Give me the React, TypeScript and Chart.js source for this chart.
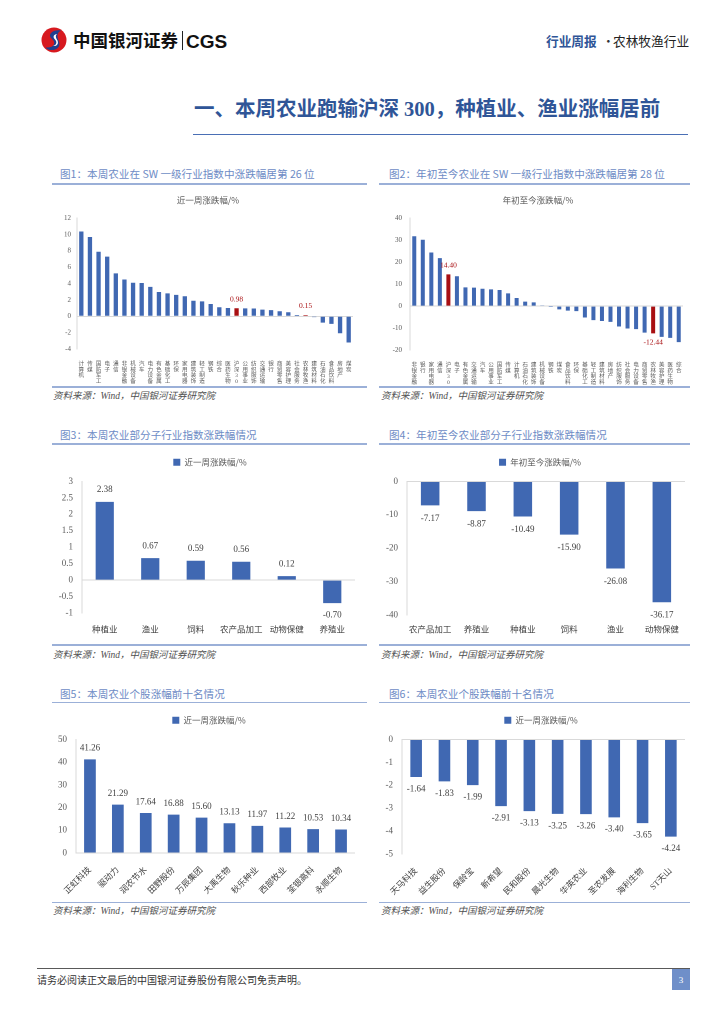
import React, { useEffect, useRef } from "react";
import { Chart, registerables } from "chart.js";

Chart.register(...registerables);

const FONT = '"Liberation Serif", "Noto Sans CJK SC", serif';
const SANS = '"Noto Sans CJK SC", "Liberation Sans", sans-serif';
const BLUE = "#4068B2";
const RED = "#A80F12";
const TICK = "#595959";

// ---- 图1 本周申万一级行业涨跌幅
const weekSectors = ["计算机", "传媒", "国防军工", "电子", "通信", "非银金融", "机械设备", "汽车", "电力设备", "有色金属", "基础化工", "环保", "家用电器", "建筑装饰", "轻工制造", "钢铁", "综合", "医药生物", "沪深300", "公用事业", "纺织服饰", "交通运输", "银行", "商贸零售", "美容护理", "社会服务", "农林牧渔", "建筑材料", "石油石化", "食品饮料", "房地产", "煤炭"];
const weekChange = [10.37, 9.7, 7.9, 7.3, 5.25, 4.5, 4.1, 4.08, 3.6, 2.97, 2.8, 2.62, 2.45, 1.9, 1.83, 1.5, 1.1, 1.02, 0.98, 0.97, 0.95, 0.82, 0.75, 0.62, 0.5, 0.16, 0.15, -0.1, -0.77, -0.93, -2.07, -3.2];
const weekHighlight = ["沪深300", "农林牧渔"];
const weekAxis = [-4, 12, 2];

// ---- 图2 年初至今申万一级行业涨跌幅
const ytdSectors = ["非银金融", "银行", "家用电器", "通信", "沪深300", "电子", "有色金属", "交通运输", "汽车", "公用事业", "国防军工", "传媒", "计算机", "石油石化", "建筑装饰", "机械设备", "钢铁", "煤炭", "食品饮料", "环保", "基础化工", "轻工制造", "建筑材料", "房地产", "纺织服饰", "社会服务", "电力设备", "商贸零售", "农林牧渔", "美容护理", "医药生物", "综合"];
const ytdChange = [31.8, 30.2, 24.4, 21.8, 14.4, 13.6, 8.5, 8.4, 7.9, 7.6, 7.3, 5.8, 3.7, 2.0, 1.7, 0.1, -0.05, -1.5, -2.1, -2.3, -5.2, -6.4, -6.8, -7.2, -9.3, -10.2, -10.5, -12.1, -12.44, -14.0, -14.5, -16.4];
const ytdHighlight = ["沪深300", "农林牧渔"];
const ytdAxis = [-20, 40, 10];

// ---- 图3 本周农业子行业
const subWeekNames = ["种植业", "渔业", "饲料", "农产品加工", "动物保健", "养殖业"];
const subWeekChange = [2.38, 0.67, 0.59, 0.56, 0.12, -0.7];
const subWeekAxis = [-1, 3, 0.5];

// ---- 图4 年初至今农业子行业
const subYtdNames = ["农产品加工", "养殖业", "种植业", "饲料", "渔业", "动物保健"];
const subYtdChange = [-7.17, -8.87, -10.49, -15.9, -26.08, -36.17];
const subYtdAxis = [-40, 0, 10];

// ---- 图5 本周涨幅前十
const topGainNames = ["正虹科技", "驱动力", "润农节水", "田野股份", "万辰集团", "大禹生物", "秋乐种业", "西部牧业", "荃银高科", "永顺生物"];
const topGainChange = [41.26, 21.29, 17.64, 16.88, 15.6, 13.13, 11.97, 11.22, 10.53, 10.34];
const topGainAxis = [0, 50, 10];

// ---- 图6 本周跌幅前十
const topLossNames = ["天马科技", "益生股份", "保龄宝", "新希望", "民和股份", "晨光生物", "华英农业", "圣农发展", "海利生物", "ST天山"];
const topLossChange = [-1.64, -1.83, -1.99, -2.91, -3.13, -3.25, -3.26, -3.4, -3.65, -4.24];
const topLossAxis = [-5, 0, 1];

type PanelCfg = {
  box: [number, number, number, number];
  labels: (string | string[])[];
  data: number[];
  colors: string | string[];
  axis: number[];
  yWidth: number;
  xHeight: number;
  padRight: number;
  yFont: number;
  yPad: number;
  xFont: number;
  xLineHeight: number;
  xPad: number;
  xColor: string;
  rotation: number;
  barPct: number;
  series: string;
  title?: string;
  titlePad?: { top: number; bottom: number };
  legend?: boolean;
  legendPad?: number;
  legendGap?: number;
  headShift: number;
  valueIdx: number[];
  valueColor: string;
  valueFont: number;
  valueOffset: number;
};

function makeValuePlugin(cfg: PanelCfg) {
  return {
    id: "valueLabels",
    afterDatasetsDraw(chart: any) {
      const ctx = chart.ctx;
      const meta = chart.getDatasetMeta(0);
      const values = chart.data.datasets[0].data as number[];
      ctx.save();
      ctx.font = `${cfg.valueFont}px ${FONT}`;
      ctx.textAlign = "center";
      ctx.textBaseline = "middle";
      ctx.fillStyle = cfg.valueColor;
      cfg.valueIdx.forEach((i) => {
        const bar = meta.data[i];
        if (!bar) return;
        const v = values[i];
        const y = v >= 0 ? bar.y - cfg.valueOffset : bar.y + cfg.valueOffset;
        ctx.fillText(v.toFixed(2), bar.x, y);
      });
      ctx.restore();
    },
  };
}

function makeHeadPlugin(extra: number, shift: number) {
  return {
    id: "headAdjust",
    beforeInit(chart: any) {
      if (!chart.legend) return;
      const orig = chart.legend.fit;
      chart.legend.fit = function () {
        orig.call(this);
        this.height += extra;
      };
    },
    afterLayout(chart: any) {
      [chart.titleBlock, chart.legend].forEach((b: any) => {
        if (!b) return;
        b.left += shift;
        b.right += shift;
      });
    },
  };
}

function buildConfig(cfg: PanelCfg): any {
  const [min, max, step] = cfg.axis;
  return {
    type: "bar",
    data: {
      labels: cfg.labels,
      datasets: [
        {
          label: cfg.series,
          data: cfg.data,
          backgroundColor: cfg.colors,
          borderWidth: 0,
          barPercentage: cfg.barPct,
          categoryPercentage: 1,
        },
      ],
    },
    options: {
      animation: false,
      responsive: true,
      maintainAspectRatio: false,
      devicePixelRatio: 2,
      layout: { padding: { top: 0, right: cfg.padRight, bottom: 0, left: 0 } },
      plugins: {
        tooltip: { enabled: false },
        title: {
          display: !!cfg.title,
          text: cfg.title || "",
          color: TICK,
          font: { family: SANS, size: 8.5, weight: "normal", lineHeight: 1.2 },
          padding: cfg.titlePad || { top: 0, bottom: 0 },
        },
        legend: {
          display: !!cfg.legend,
          position: "top",
          labels: {
            boxWidth: 7,
            boxHeight: 7,
            color: TICK,
            padding: cfg.legendPad ?? 10,
            font: { family: SANS, size: 8.5 },
          },
        },
      },
      scales: {
        x: {
          grid: { display: false },
          border: { display: false },
          afterFit: (s: any) => {
            s.height = cfg.xHeight;
          },
          ticks: {
            autoSkip: false,
            maxRotation: cfg.rotation,
            minRotation: cfg.rotation,
            padding: cfg.xPad,
            color: cfg.xColor,
            font: { family: FONT, size: cfg.xFont, lineHeight: cfg.xLineHeight },
          },
        },
        y: {
          min,
          max,
          afterFit: (s: any) => {
            s.width = cfg.yWidth;
          },
          border: { display: true, color: "#D9D9D9", width: 1 },
          grid: {
            drawTicks: false,
            color: (c: any) => (c.tick && Math.abs(c.tick.value) < 1e-9 ? "#D9D9D9" : "rgba(0,0,0,0)"),
            lineWidth: 1,
          },
          ticks: {
            stepSize: step,
            padding: cfg.yPad,
            color: TICK,
            font: { family: FONT, size: cfg.yFont },
            callback: (v: any) => `${Math.round(Number(v) * 100) / 100}`,
          },
        },
      },
    },
    plugins: [makeValuePlugin(cfg), makeHeadPlugin(cfg.legendGap ?? 0, cfg.headShift)],
  };
}

function BarPanel({ cfg }: { cfg: PanelCfg }) {
  const ref = useRef<HTMLCanvasElement>(null);
  useEffect(() => {
    if (!ref.current) return;
    const chart = new Chart(ref.current, buildConfig(cfg));
    return () => chart.destroy();
  }, [cfg]);
  const [left, top, width, height] = cfg.box;
  return (
    <div style={{ position: "absolute", left, top, width, height }}>
      <canvas ref={ref} />
    </div>
  );
}

const stack = (s: string) => Array.from(s);
const idxOf = (names: string[], pick: string[]) => names.map((n, i) => (pick.includes(n) ? i : -1)).filter((i) => i >= 0);
const allIdx = (arr: number[]) => arr.map((_, i) => i);

const chart1: PanelCfg = {
  box: [52, 188, 312, 197],
  labels: weekSectors.map(stack),
  data: weekChange,
  colors: weekSectors.map((n) => (weekHighlight.includes(n) ? RED : BLUE)),
  axis: weekAxis,
  yWidth: 25,
  xHeight: 36,
  padRight: 11,
  yFont: 7,
  yPad: 6,
  xFont: 5.6,
  xLineHeight: 1.05,
  xPad: 4,
  xColor: TICK,
  rotation: 0,
  barPct: 0.5,
  series: "近一周涨跌幅/%",
  title: "近一周涨跌幅/%",
  titlePad: { top: 7, bottom: 13 },
  headShift: 5.5,
  valueIdx: idxOf(weekSectors, weekHighlight),
  valueColor: RED,
  valueFont: 7.5,
  valueOffset: 9,
};

const chart2: PanelCfg = {
  box: [379, 188, 312, 197],
  labels: ytdSectors.map(stack),
  data: ytdChange,
  colors: ytdSectors.map((n) => (ytdHighlight.includes(n) ? RED : BLUE)),
  axis: ytdAxis,
  yWidth: 31,
  xHeight: 35,
  padRight: 8,
  yFont: 7,
  yPad: 8,
  xFont: 5.6,
  xLineHeight: 1.05,
  xPad: 4,
  xColor: TICK,
  rotation: 0,
  barPct: 0.47,
  series: "年初至今涨跌幅/%",
  title: "年初至今涨跌幅/%",
  titlePad: { top: 7, bottom: 13 },
  headShift: 7,
  valueIdx: idxOf(ytdSectors, ytdHighlight),
  valueColor: RED,
  valueFont: 7.5,
  valueOffset: 9,
};

const chart3: PanelCfg = {
  box: [52, 448, 312, 194],
  labels: subWeekNames,
  data: subWeekChange,
  colors: BLUE,
  axis: subWeekAxis,
  yWidth: 30,
  xHeight: 29,
  padRight: 9,
  yFont: 9,
  yPad: 9,
  xFont: 8.5,
  xLineHeight: 1.2,
  xPad: 4,
  xColor: "#404040",
  rotation: 0,
  barPct: 0.4,
  series: "近一周涨跌幅/%",
  legend: true,
  legendPad: 10,
  legendGap: 5,
  headShift: 6.5,
  valueIdx: allIdx(subWeekChange),
  valueColor: "#404040",
  valueFont: 9,
  valueOffset: 12,
};

const chart4: PanelCfg = {
  box: [379, 448, 312, 194],
  labels: subYtdNames,
  data: subYtdChange,
  colors: BLUE,
  axis: subYtdAxis,
  yWidth: 28,
  xHeight: 27,
  padRight: 6,
  yFont: 9,
  yPad: 9,
  xFont: 8.5,
  xLineHeight: 1.2,
  xPad: 2,
  xColor: "#404040",
  rotation: 0,
  barPct: 0.4,
  series: "年初至今涨跌幅/%",
  legend: true,
  legendPad: 10,
  legendGap: 5,
  headShift: 8,
  valueIdx: allIdx(subYtdChange),
  valueColor: "#404040",
  valueFont: 9,
  valueOffset: 13,
};

const chart5: PanelCfg = {
  box: [52, 706, 312, 196],
  labels: topGainNames,
  data: topGainChange,
  colors: BLUE,
  axis: topGainAxis,
  yWidth: 24,
  xHeight: 49,
  padRight: 9,
  yFont: 9,
  yPad: 9,
  xFont: 8.5,
  xLineHeight: 1.2,
  xPad: 4,
  xColor: "#404040",
  rotation: 45,
  barPct: 0.42,
  series: "近一周涨跌幅/%",
  legend: true,
  legendPad: 10,
  legendGap: 5,
  headShift: 5.5,
  valueIdx: allIdx(topGainChange),
  valueColor: "#404040",
  valueFont: 9,
  valueOffset: 11,
};

const chart6: PanelCfg = {
  box: [379, 706, 312, 196],
  labels: topLossNames,
  data: topLossChange,
  colors: BLUE,
  axis: topLossAxis,
  yWidth: 23,
  xHeight: 48,
  padRight: 6,
  yFont: 9,
  yPad: 9,
  xFont: 8.5,
  xLineHeight: 1.2,
  xPad: 4,
  xColor: "#404040",
  rotation: 45,
  barPct: 0.41,
  series: "近一周涨跌幅/%",
  legend: true,
  legendPad: 10,
  legendGap: 5,
  headShift: 9,
  valueIdx: allIdx(topLossChange),
  valueColor: "#404040",
  valueFont: 9,
  valueOffset: 12,
};

const panelTitles = [
  { x: 60, y: 174, text: "图1：本周农业在 SW 一级行业指数中涨跌幅居第 26 位" },
  { x: 389, y: 174, text: "图2：年初至今农业在 SW 一级行业指数中涨跌幅居第 28 位" },
  { x: 60, y: 435, text: "图3：本周农业部分子行业指数涨跌幅情况" },
  { x: 389, y: 435, text: "图4：年初至今农业部分子行业指数涨跌幅情况" },
  { x: 60, y: 694, text: "图5：本周农业个股涨幅前十名情况" },
  { x: 389, y: 694, text: "图6：本周农业个股跌幅前十名情况" },
];
const panelRules = [
  { x: 52, w: 315, ys: [184, 387] },
  { x: 379, w: 311, ys: [184, 387] },
  { x: 52, w: 315, ys: [444, 645] },
  { x: 379, w: 311, ys: [444, 645] },
  { x: 52, w: 315, ys: [702.5, 902.5] },
  { x: 379, w: 311, ys: [702.5, 902.5] },
];
const sources = [
  { x: 53, y: 397 },
  { x: 381, y: 397 },
  { x: 53, y: 656 },
  { x: 381, y: 656 },
  { x: 53, y: 912 },
  { x: 381, y: 912 },
];
const SOURCE_TEXT = "资料来源：Wind，中国银河证券研究院";

function Txt(props: { x: number; y: number; size: number; color: string; children: React.ReactNode; weight?: number; family?: string; italic?: boolean }) {
  return (
    <div
      style={{
        position: "absolute",
        left: props.x,
        top: props.y,
        transform: "translateY(-50%)",
        fontSize: props.size,
        lineHeight: 1,
        color: props.color,
        fontWeight: props.weight ?? 400,
        fontFamily: props.family ?? SANS,
        fontStyle: props.italic ? "italic" : "normal",
        whiteSpace: "pre",
      }}
    >
      {props.children}
    </div>
  );
}

export default function App() {
  return (
    <div style={{ position: "absolute", left: 0, top: 0, width: 724, height: 1024, background: "#fff", overflow: "hidden" }}>
      {/* logo */}
      <svg width="26" height="26" viewBox="0 0 26 26" style={{ position: "absolute", left: 41, top: 27 }}>
        <circle cx="13" cy="13" r="12.5" fill="#D7191F" />
        <path d="M20 3.5 C 12 2, 5.5 7.5, 11 12 C 15.5 15.5, 13 21.5, 4.5 20.5 C 9 25.5, 21 23, 18 14.5 C 16 9.5, 15.5 6, 20 3.5 Z" fill="#1F3F8F" />
        <path d="M16 7 C 12.5 7.5, 11.5 10, 14 12.5 C 16.5 15, 15.5 18, 12 19 C 15.5 19.5, 18 17, 16.5 13.5 C 15 11, 14 9, 16 7 Z" fill="#fff" />
      </svg>
      <Txt x={73} y={40} size={17.5} color="#111" weight={700}>中国银河证券</Txt>
      <div style={{ position: "absolute", left: 182, top: 31, width: 1.2, height: 19, background: "#222" }} />
      <Txt x={186} y={40.5} size={19} color="#111" weight={700} family='"Liberation Sans", sans-serif'>CGS</Txt>
      <Txt x={546} y={41} size={12.7} color="#2F5597" weight={700}>行业周报</Txt>
      <Txt x={602} y={41} size={12.7} color="#333">·</Txt>
      <Txt x={613} y={41} size={12.7} color="#222">农林牧渔行业</Txt>

      {/* section heading */}
      <Txt x={194} y={109} size={20.5} color="#2F5597" weight={700} family={'"Liberation Serif", "Noto Sans CJK SC", serif'}>一、本周农业跑输沪深 300，种植业、渔业涨幅居前</Txt>
      <div style={{ position: "absolute", left: 193, top: 133.5, width: 495, height: 1.3, background: "#4A6FB5" }} />

      {panelTitles.map((t, i) => (
        <Txt key={"t" + i} x={t.x} y={t.y} size={10.6} color="#6D8BC5">{t.text}</Txt>
      ))}
      {panelRules.map((r, i) =>
        r.ys.map((y, j) => (
          <div key={"r" + i + "-" + j} style={{ position: "absolute", left: r.x, top: y - 0.75, width: r.w, height: 1.5, background: "#9BB0D8" }} />
        ))
      )}
      {sources.map((s, i) => (
        <Txt key={"s" + i} x={s.x} y={s.y} size={9.5} color="#505050" italic family={FONT}>{SOURCE_TEXT}</Txt>
      ))}

      <BarPanel cfg={chart1} />
      <BarPanel cfg={chart2} />
      <BarPanel cfg={chart3} />
      <BarPanel cfg={chart4} />
      <BarPanel cfg={chart5} />
      <BarPanel cfg={chart6} />

      {/* footer */}
      <div style={{ position: "absolute", left: 37, top: 968, width: 653, height: 1, background: "#595959" }} />
      <Txt x={37} y={980} size={10} color="#333">请务必阅读正文最后的中国银河证券股份有限公司免责声明。</Txt>
      <div style={{ position: "absolute", left: 672, top: 969, width: 18, height: 21, background: "#6F8FC9", color: "#fff", fontSize: 9, fontFamily: FONT, display: "flex", alignItems: "center", justifyContent: "center" }}>3</div>
    </div>
  );
}
